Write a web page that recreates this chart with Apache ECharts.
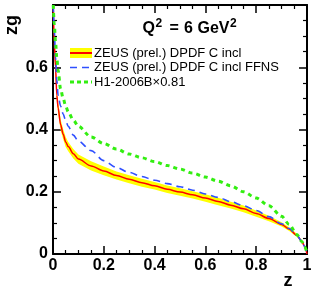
<!DOCTYPE html>
<html>
<head>
<meta charset="utf-8">
<script src="https://cdn.jsdelivr.net/npm/echarts@6/dist/echarts.min.js"></script>
<style>
html,body{margin:0;padding:0;background:#fff;}
#c{width:322px;height:294px;}
</style>
</head>
<body>
<div id="c"></div>
<script>
// ---- data ----
var zValues = [0.001,0.005,0.01,0.015,0.02,0.03,0.04,0.05,0.06,0.08,0.1,0.15,0.2,0.25,0.3,0.35,0.4,0.45,0.5,0.55,0.6,0.65,0.7,0.75,0.8,0.85,0.9,0.93,0.96,0.98,0.99,1.0];
var zeusC = [0.80,0.68,0.60,0.51,0.47,0.415,0.385,0.36,0.345,0.322,0.305,0.283,0.267,0.252,0.24,0.229,0.219,0.208,0.199,0.19,0.18,0.169,0.157,0.145,0.13,0.114,0.095,0.08,0.06,0.04,0.025,0.0];
var zeusCLow = [0.78,0.66,0.58,0.49,0.452,0.398,0.369,0.344,0.33,0.307,0.29,0.268,0.253,0.239,0.227,0.216,0.207,0.196,0.187,0.178,0.168,0.157,0.146,0.134,0.12,0.105,0.088,0.074,0.055,0.036,0.022,0.0];
var zeusCHigh = [0.82,0.70,0.62,0.53,0.488,0.432,0.401,0.376,0.36,0.337,0.32,0.298,0.281,0.265,0.253,0.242,0.231,0.22,0.211,0.202,0.192,0.181,0.168,0.156,0.14,0.123,0.102,0.086,0.065,0.044,0.028,0.002];
var zeusFFNS = [0.80,0.72,0.63,0.56,0.51,0.475,0.45,0.428,0.41,0.382,0.363,0.332,0.30,0.278,0.262,0.249,0.237,0.226,0.216,0.205,0.193,0.182,0.168,0.155,0.14,0.12,0.097,0.082,0.06,0.04,0.025,0.0];
var h1Scaled = [0.80,0.74,0.68,0.63,0.59,0.53,0.50,0.475,0.457,0.43,0.41,0.376,0.355,0.337,0.321,0.309,0.297,0.284,0.273,0.26,0.247,0.234,0.219,0.2,0.18,0.155,0.121,0.095,0.063,0.04,0.024,0.005];
var xTicks = [0, 0.2, 0.4, 0.6, 0.8, 1];
var yTicks = [0, 0.2, 0.4, 0.6];
var legendNames = ['ZEUS (prel.) DPDF C incl', 'ZEUS (prel.) DPDF C incl FFNS', 'H1-2006B\u00d70.81'];

function pairs(ys){ return zValues.map(function(z,i){ return [z, ys[i]]; }); }
var bandData = zValues.map(function(z,i){ return [z, zeusCLow[i], zeusCHigh[i]]; });

var chart = echarts.init(document.getElementById('c'), null, {renderer:'canvas'});
var FONT = 'Liberation Sans, Arial, sans-serif';
var labelFmt = function(v){ return String(Math.round(v*10)/10); };

var tickCommon = {
  axisLine:{show:true, onZero:false, lineStyle:{color:'#000', width:2}},
  axisTick:{show:true, inside:true, length:8, lineStyle:{color:'#000', width:1.5}},
  minorTick:{show:true, splitNumber:4, length:4, lineStyle:{color:'#000', width:1.2}},
  splitLine:{show:false}, minorSplitLine:{show:false}
};

function renderBand(params, api){
  if (params.dataIndex !== 0) return null;
  var upper = [], lower = [];
  for (var i = 0; i < bandData.length; i++){
    upper.push(api.coord([bandData[i][0], bandData[i][2]]));
    lower.push(api.coord([bandData[i][0], bandData[i][1]]));
  }
  var pts = upper.concat(lower.reverse());
  return {
    type:'polygon',
    shape:{points:pts},
    style:{fill:'#ffff00', stroke:'none'},
    clipPath:{type:'rect', shape:{x:params.coordSys.x, y:params.coordSys.y, width:params.coordSys.width, height:params.coordSys.height}}
  };
}

function tx(x, y, text, size){
  return {type:'text', x:x, y:y, z:20, style:{text:text, font:'bold '+size+'px '+FONT, fill:'#000', textVerticalAlign:'middle'}};
}

chart.setOption({
  animation:false,
  backgroundColor:'#fff',
  grid:{left:53, top:5, right:15, bottom:40, containLabel:false},
  xAxis:[
    Object.assign({type:'value', min:0, max:1, interval:0.2, position:'bottom',
      axisLabel:{show:true, color:'#000', fontFamily:FONT, fontWeight:'bold', fontSize:16, margin:4, formatter:labelFmt}}, tickCommon),
    Object.assign({type:'value', min:0, max:1, interval:0.2, position:'top', axisLabel:{show:false}}, tickCommon)
  ],
  yAxis:[
    Object.assign({type:'value', min:0, max:0.8, interval:0.2, position:'left',
      axisLabel:{show:true, color:'#000', fontFamily:FONT, fontWeight:'bold', fontSize:16, margin:5, formatter:labelFmt,
        showMaxLabel:false}}, tickCommon),
    Object.assign({type:'value', min:0, max:0.8, interval:0.2, position:'right', axisLabel:{show:false}}, tickCommon)
  ],
  series:[
    {type:'custom', name:'band', data:bandData, renderItem:renderBand, silent:true, z:1,
      encode:{x:0, y:[1,2]}},
    {type:'line', name:legendNames[0], data:pairs(zeusC), symbol:'none', smooth:0.3, smoothMonotone:'x',
      lineStyle:{color:'#ff0000', width:1.5}, z:3},
    {type:'line', name:legendNames[1], data:pairs(zeusFFNS), symbol:'none', smooth:0.3, smoothMonotone:'x',
      lineStyle:{color:'#2f4fff', width:1.6, type:[7,5]}, z:4},
    {type:'line', name:legendNames[2], data:pairs(h1Scaled), symbol:'none', smooth:0.3, smoothMonotone:'x',
      lineStyle:{color:'#33ee11', width:3, type:[4,4]}, z:5}
  ],
  graphic:[
    // title Q^2 = 6 GeV^2
    tx(142.5, 29, 'Q', 16),
    tx(155.5, 23.4, '2', 12),
    tx(169.5, 29, '=', 16),
    tx(184, 29, '6', 16),
    tx(197.5, 29, 'GeV', 16),
    tx(230, 23.4, '2', 12),
    // legend
    {type:'rect', shape:{x:70, y:48, width:22, height:10}, style:{fill:'#ffff00'}, z:10},
    {type:'line', shape:{x1:70, y1:53, x2:92, y2:53}, style:{stroke:'#ff0000', lineWidth:2}, z:11},
    {type:'text', x:94, y:53, style:{text:legendNames[0], font:'13px '+FONT, fill:'#000', textVerticalAlign:'middle'}, z:11},
    {type:'line', shape:{x1:70, y1:67.5, x2:92, y2:67.5}, style:{stroke:'#2f4fff', lineWidth:1.5, lineDash:[7,5]}, z:11},
    {type:'text', x:94, y:67.5, style:{text:legendNames[1], font:'13px '+FONT, fill:'#000', textVerticalAlign:'middle'}, z:11},
    {type:'line', shape:{x1:70, y1:82, x2:92, y2:82}, style:{stroke:'#33ee11', lineWidth:3, lineDash:[4,3]}, z:11},
    {type:'text', x:94, y:82, style:{text:legendNames[2], font:'13px '+FONT, fill:'#000', textVerticalAlign:'middle'}, z:11},
    // axis titles
    {type:'text', x:12, y:25, rotation:Math.PI/2, style:{text:'zg', font:'bold 18px '+FONT, fill:'#000', textAlign:'center', textVerticalAlign:'middle'}},
    {type:'text', x:288, y:281, style:{text:'z', font:'bold 18px '+FONT, fill:'#000', textAlign:'center', textVerticalAlign:'middle'}}
  ]
});
</script>
</body>
</html>
